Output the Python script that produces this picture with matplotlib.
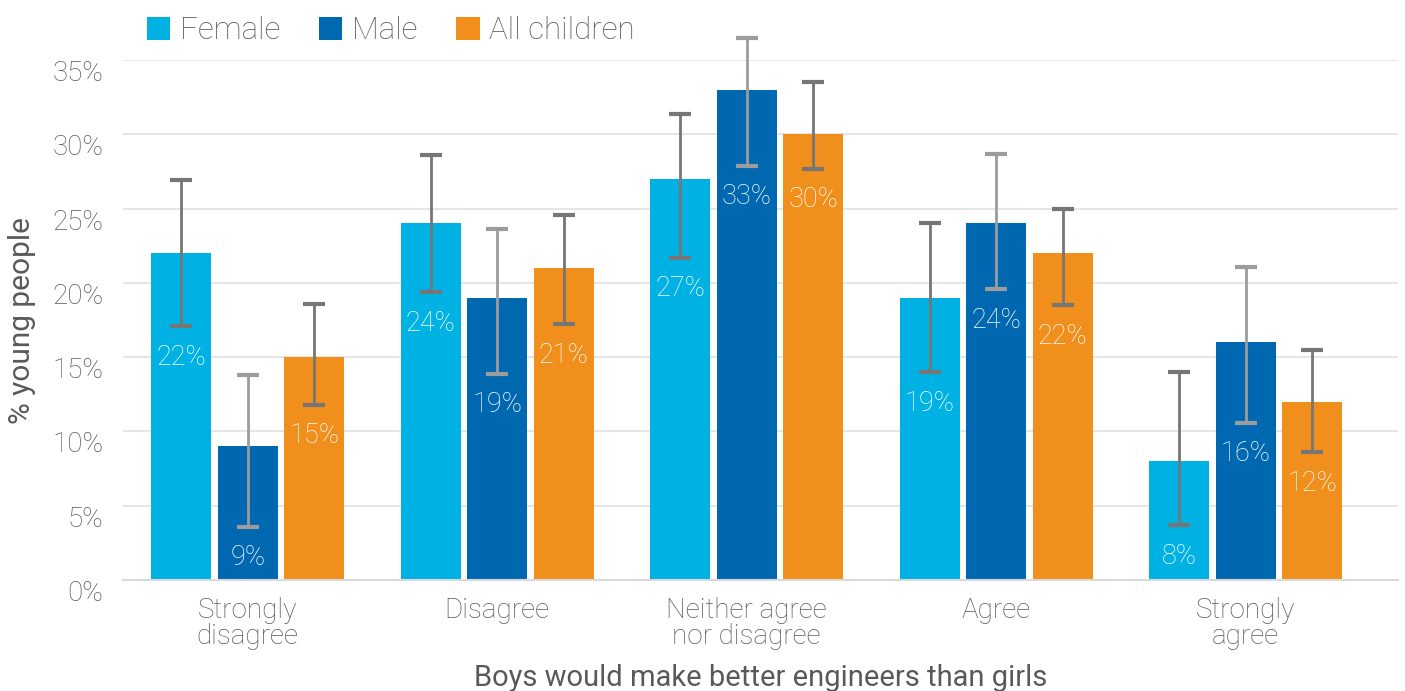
import numpy as np
import matplotlib.pyplot as plt

plt.rcParams["font.family"] = ["Roboto", "DejaVu Sans"]
plt.rcParams["font.weight"] = "light"

categories = ["Strongly\ndisagree", "Disagree", "Neither agree\nnor disagree", "Agree", "Strongly\nagree"]
series_names = ["Female", "Male", "All children"]
female = [22, 24, 27, 19, 8]
male = [9, 19, 33, 24, 16]
all_children = [15, 21, 30, 22, 12]
# lower / upper ends of the error bars
female_low = [17.1, 19.4, 21.7, 14.0, 3.7]
female_high = [26.9, 28.6, 31.4, 24.0, 14.0]
male_low = [3.6, 13.9, 27.9, 19.6, 10.6]
male_high = [13.8, 23.6, 36.5, 28.7, 21.1]
all_low = [11.8, 17.2, 27.7, 18.5, 8.6]
all_high = [18.6, 24.6, 33.5, 25.0, 15.5]

colors = ["#00B2E3", "#0068B1", "#F18F1C"]
err_colors = ["#767676", "#9C9C9C", "#767676"]
text_color = "#595959"

values = [female, male, all_children]
lows = [female_low, male_low, all_low]
highs = [female_high, male_high, all_high]

fig = plt.figure(figsize=(14.05, 6.91), dpi=100)
ax = fig.add_axes([0.0875, 0.1606, 0.9075, 0.7525])

x = np.arange(len(categories))
width = 0.24
step = 0.267

for i, (name, vals, lo, hi) in enumerate(zip(series_names, values, lows, highs)):
    xpos = x + (i - 1) * step
    vals = np.array(vals, dtype=float)
    lo = np.array(lo)
    hi = np.array(hi)
    ax.bar(xpos, vals, width, color=colors[i], label=name, zorder=2)
    ax.errorbar(xpos, vals, yerr=[vals - lo, hi - vals], fmt="none",
                ecolor=err_colors[i], elinewidth=2, capsize=8, capthick=3,
                zorder=3, clip_on=False)
    for xp, v, l in zip(xpos, vals, lo):
        ax.text(xp, l - 2.1, f"{v:.0f}%", ha="center", va="center",
                color="white", fontsize=19.5, zorder=4)

ax.set_xlim(-0.5, 4.61)
ax.set_ylim(0, 35)
ax.set_yticks(range(0, 36, 5))
ax.set_yticklabels([f"{t}%" for t in range(0, 36, 5)])
ax.set_xticks(x)
ax.set_xticklabels(categories, linespacing=0.95)
ax.tick_params(axis="both", length=0, colors=text_color, labelsize=20)
ax.tick_params(axis="y", pad=14)
ax.tick_params(axis="x", pad=12)
for lab in ax.get_yticklabels():
    lab.set_verticalalignment("top")

ax.grid(axis="y", color="#E3E3E3", linewidth=1.3, zorder=0)
ax.set_axisbelow(True)
for s in ["top", "right", "left"]:
    ax.spines[s].set_visible(False)
ax.spines["bottom"].set_color("#D9D9D9")
ax.spines["bottom"].set_linewidth(1.5)

ax.set_ylabel("% young people", fontsize=21.5, color=text_color, labelpad=12)
ax.set_xlabel("Boys would make better engineers than girls", fontsize=21,
              color=text_color, labelpad=10)

leg = ax.legend(loc="lower left", bbox_to_anchor=(0.009, 1.004), ncol=3,
                frameon=False, fontsize=22.5, handlelength=0.75, handleheight=0.75,
                handletextpad=0.3, columnspacing=1.25, borderaxespad=0)
for t in leg.get_texts():
    t.set_color(text_color)

fig.savefig("out.png", dpi=100)
